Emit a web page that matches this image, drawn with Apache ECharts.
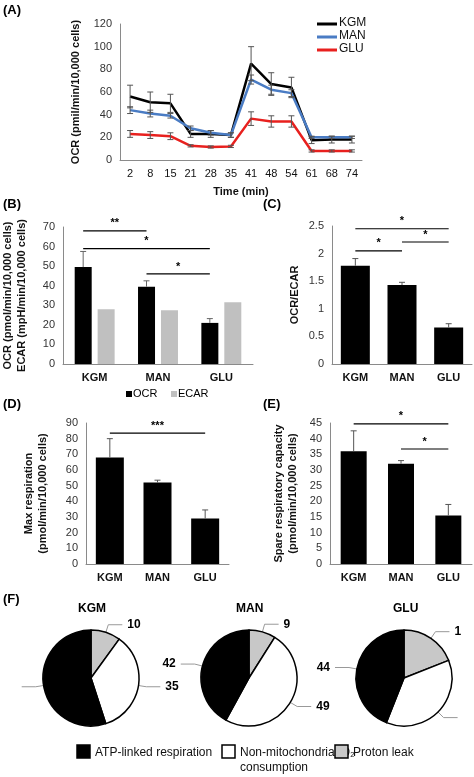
<!DOCTYPE html>
<html><head><meta charset="utf-8">
<script src="https://cdn.jsdelivr.net/npm/echarts@6/dist/echarts.min.js"></script>
<style>html,body{margin:0;padding:0;background:#fff}#c{width:474px;height:777px}</style>
</head><body><div id="c"></div>
<script>
const timeLabels=['2','8','15','21','28','35','41','48','54','61','68','74'];
const kgm=[56,51,50,23,23,22,85,67,64,17.5,18,18];
const kgmErr=[10,9,8,3,3,2,15,10,9,3,3,3];
const man=[44,41,39,28,24,22,71,62,59,20,20,20];
const manErr=[3,3,2,2,2,2,4,4,3,1,1,1];
const glu=[23,22,21,12.5,11.5,12,36.5,34,34,8,8,8];
const gluErr=[3,3,3,1,1,1,6,5,5,1,1,1];
const groups=['KGM','MAN','GLU'];
const ocr=[49.5,39.5,21],ocrErr=[8,3,2.2];
const ecar=[28,27.5,31.5];
const ratio=[1.78,1.43,0.66],ratioErr=[0.13,0.05,0.07];
const maxResp=[68,52,29],maxRespErr=[12,1.5,5.5];
const spare=[36,32,15.5],spareErr=[6.5,1,3.5];
const sigB=[[0,1,68,'**'],[0,2,59,'*'],[1,2,46,'*']];
const sigC=[[0,2,2.45,'*'],[0,1,2.05,'*'],[1,2,2.21,'*']];
const sigD=[[0,2,83.5,'***']];
const sigE=[[0,2,44.7,'*'],[1,2,36.7,'*']];
const pieNames=['Proton leak','Non-mitochondrial O₂ consumption','ATP-linked respiration'];
const pieKGM=[10,35,55],pieMAN=[9,49,42],pieGLU=[19,37,44];

const F='"Liberation Sans", Arial, sans-serif';
const axisC='#8a8a8a';
function errSeries(g,vals,errs,off,both,color){
  return {type:'custom',xAxisIndex:g,yAxisIndex:g,z:5,silent:true,
    data:vals.map((v,i)=>[i,v,errs[i]]),
    renderItem:(p,api)=>{
      const i=api.value(0),v=api.value(1),e=api.value(2);
      const top=api.coord([i,v+e]),bot=api.coord([i,both?v-e:v]);
      const x=top[0]+off,st={stroke:color,lineWidth:1};
      const ch=[{type:'line',shape:{x1:x,y1:top[1],x2:x,y2:bot[1]},style:st},
        {type:'line',shape:{x1:x-3,y1:top[1],x2:x+3,y2:top[1]},style:st}];
      if(both)ch.push({type:'line',shape:{x1:x-3,y1:bot[1],x2:x+3,y2:bot[1]},style:st});
      return {type:'group',children:ch};
    }};
}
function sigSeries(g,arr,off){
  return {type:'custom',xAxisIndex:g,yAxisIndex:g,z:6,silent:true,data:arr,
    renderItem:(p,api)=>{
      const a=api.value(0),b=api.value(1),y=api.value(2),t=arr[p.dataIndex][3];
      const p1=api.coord([a,y]),p2=api.coord([b,y]);
      const x1=p1[0]+off,x2=p2[0]+off;
      return {type:'group',children:[
        {type:'line',shape:{x1:x1,y1:p1[1],x2:x2,y2:p1[1]},style:{stroke:'#000',lineWidth:1.2}},
        {type:'text',x:(x1+x2)/2,y:p1[1]-2,style:{text:t,textAlign:'center',textVerticalAlign:'bottom',font:'bold 11px '+F,fill:'#000'}}]};
    }};
}
function catAxis(g,data,bold){
  return {type:'category',gridIndex:g,data:data,axisLine:{lineStyle:{color:axisC}},axisTick:{show:false},
    axisLabel:{color:'#111',fontSize:bold?11:11,fontWeight:bold?'bold':'normal',fontFamily:F,margin:8}};
}
function valAxis(g,max,interval,name,gap){
  return {type:'value',gridIndex:g,min:0,max:max,interval:interval,name:name,nameLocation:'middle',nameGap:gap,
    nameTextStyle:{fontSize:11,fontWeight:'bold',fontFamily:F,color:'#111',lineHeight:14},
    axisLine:{show:true,lineStyle:{color:axisC}},axisTick:{show:false},splitLine:{show:false},
    axisLabel:{color:'#333',fontSize:11,fontFamily:F}};
}
const chart=echarts.init(document.getElementById('c'));
const pieBase=(c,d,title)=>({type:'pie',radius:48,center:c,startAngle:90,clockwise:true,silent:true,
  data:d.map((v,i)=>({name:pieNames[i],value:v,itemStyle:{color:['#c8c8c8','#ffffff','#000000'][i]}})),
  itemStyle:{borderColor:'#000',borderWidth:1.5},
  label:{show:true,formatter:'{c}',fontWeight:'bold',fontSize:12,fontFamily:F,color:'#000'},
  labelLine:{show:true,length:8,length2:14,lineStyle:{color:'#999',width:1}}});
const legF=[['#000','ATP-linked respiration',77],['#fff','Non-mitochondrial O₂\nconsumption',222],['#c8c8c8','Proton leak',335]];
const txt=(x,y,t,s,w)=>({type:'text',x:x,y:y,style:{text:t,font:(w||'bold')+' '+(s||13)+'px '+F,fill:'#000'}});
const graphic=[txt(3,4,'(A)'),txt(3,198,'(B)'),txt(263,198,'(C)'),txt(3,398,'(D)'),txt(263,398,'(E)'),txt(3,593,'(F)'),
  txt(78,603,'KGM',12),txt(236,603,'MAN',12),txt(393,603,'GLU',12),
  {type:'rect',shape:{x:126,y:391,width:6,height:6},style:{fill:'#000'}},txt(133,388,'OCR',11,'normal'),
  {type:'rect',shape:{x:171,y:391,width:6,height:6},style:{fill:'#c0c0c0'}},txt(178,388,'ECAR',11,'normal')];
legF.forEach(l=>{graphic.push({type:'rect',shape:{x:l[2],y:745,width:13,height:13},style:{fill:l[0],stroke:'#000',lineWidth:1.5}});
  graphic.push({type:'text',x:l[2]+18,y:745,style:{text:l[1],font:'12px '+F,fill:'#111',lineHeight:15}});});
[['#000','KGM',24],['#4a7cc4','MAN',37],['#e8201e','GLU',50]].forEach(l=>{
  graphic.push({type:'line',shape:{x1:317,y1:l[2],x2:337,y2:l[2]},style:{stroke:l[0],lineWidth:3}});
  graphic.push({type:'text',x:339,y:l[2]-7,style:{text:l[1],font:'12px '+F,fill:'#111'}});});
const lineS=(d,c)=>({type:'line',xAxisIndex:0,yAxisIndex:0,data:d,symbol:'none',lineStyle:{color:c,width:2.5},z:3});
chart.setOption({animation:false,graphic:graphic,
  grid:[{left:120,right:112,top:24,bottom:617},{left:61,right:221,top:227,bottom:413},
    {left:332,right:2,top:226,bottom:413},{left:86,right:245,top:423,bottom:213},{left:330,right:2,top:423,bottom:213}],
  xAxis:[Object.assign(catAxis(0,timeLabels,false),{name:'Time (min)',nameLocation:'middle',nameGap:26,
      nameTextStyle:{fontSize:11,fontWeight:'bold',fontFamily:F,color:'#111'}}),
    catAxis(1,groups,true),catAxis(2,groups,true),catAxis(3,groups,true),catAxis(4,groups,true)],
  yAxis:[valAxis(0,120,20,'OCR (pmil/min/10,000 cells)',30),
    valAxis(1,70,10,'OCR (pmol/min/10,000 cells)\nECAR (mpH/min/10,000 cells)',34),
    valAxis(2,2.5,0.5,'OCR/ECAR',30),
    valAxis(3,90,10,'Max respiration\n(pmol/min/10,000 cells)',36),
    valAxis(4,45,5,'Spare respiratory capacity\n(pmol/min/10,000 cells)',30)],
  series:[
    errSeries(0,kgm,kgmErr,0,true,'#555'),errSeries(0,man,manErr,0,true,'#555'),errSeries(0,glu,gluErr,0,true,'#555'),
    lineS(kgm,'#000'),lineS(man,'#4a7cc4'),lineS(glu,'#e8201e'),
    {type:'bar',xAxisIndex:1,yAxisIndex:1,data:ocr,barWidth:17,barGap:'35%',itemStyle:{color:'#000'}},
    {type:'bar',xAxisIndex:1,yAxisIndex:1,data:ecar,barWidth:17,itemStyle:{color:'#c0c0c0'}},
    errSeries(1,ocr,ocrErr,-11.5,false,'#666'),sigSeries(1,sigB,-11.5),
    {type:'bar',xAxisIndex:2,yAxisIndex:2,data:ratio,barWidth:29,itemStyle:{color:'#000'}},
    errSeries(2,ratio,ratioErr,0,false,'#555'),sigSeries(2,sigC,0),
    {type:'bar',xAxisIndex:3,yAxisIndex:3,data:maxResp,barWidth:28,itemStyle:{color:'#000'}},
    errSeries(3,maxResp,maxRespErr,0,false,'#555'),sigSeries(3,sigD,0),
    {type:'bar',xAxisIndex:4,yAxisIndex:4,data:spare,barWidth:26,itemStyle:{color:'#000'}},
    errSeries(4,spare,spareErr,0,false,'#555'),sigSeries(4,sigE,0),
    pieBase([91,678],pieKGM),pieBase([249,678],pieMAN),pieBase([404,678],pieGLU)
  ]});
</script></body></html>
